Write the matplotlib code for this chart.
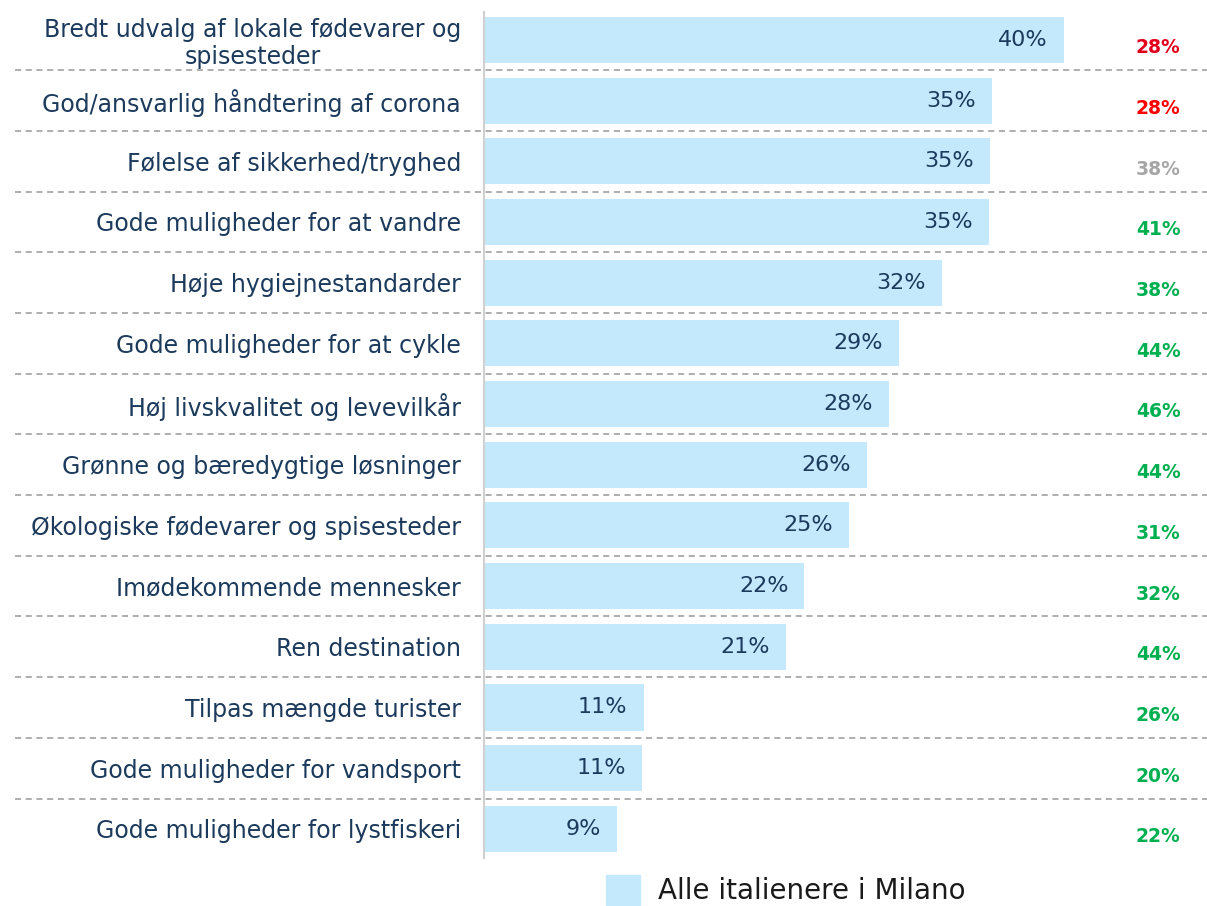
import matplotlib.pyplot as plt
from matplotlib.patches import Patch

# data
categories = [
    'Bredt udvalg af lokale fødevarer og\nspisesteder',
    'God/ansvarlig håndtering af corona',
    'Følelse af sikkerhed/tryghed',
    'Gode muligheder for at vandre',
    'Høje hygiejnestandarder',
    'Gode muligheder for at cykle',
    'Høj livskvalitet og levevilkår',
    'Grønne og bæredygtige løsninger',
    'Økologiske fødevarer og spisesteder',
    'Imødekommende mennesker',
    'Ren destination',
    'Tilpas mængde turister',
    'Gode muligheder for vandsport',
    'Gode muligheder for lystfiskeri',
]
milano = [40.0, 35.0, 34.9, 34.8, 31.6, 28.6, 27.9, 26.4, 25.2, 22.1, 20.8, 11.0, 10.9, 9.2]
compare = [28, 28, 38, 41, 38, 44, 46, 44, 31, 32, 44, 26, 20, 22]
compare_colors = ['#E3001B', '#FF0000', '#A6A6A6'] + ['#00B050'] * 11
legend_label = 'Alle italienere i Milano'

bar_color = '#C5E9FC'
text_color = '#1B3A5C'

W, H = 1207, 906
fig = plt.figure(figsize=(W / 100, H / 100), dpi=100)
ax = fig.add_axes([484 / W, 1 - 858 / H, (W - 484) / W, (858 - 12) / H])

y = list(range(len(categories)))
ax.barh(y, milano, height=0.76, color=bar_color)

ax.set_xlim(0, (W - 484) / 14.5)
ax.set_ylim(len(categories) - 1 + 0.48, -0.46)

for i, v in enumerate(milano):
    ax.annotate(f'{round(v)}%', (v, i), xytext=(-11.5, 0), textcoords='offset points',
                ha='right', va='center', fontsize=16, color=text_color)
    ax.text(46.5, i + 0.13, f'{compare[i]}%', ha='center', va='center',
            fontsize=13.5, fontweight='bold', color=compare_colors[i])

# dashed separators across the whole width
for i in range(len(categories) - 1):
    ax.axhline(i + 0.5, xmin=(15 - 484) / (W - 484), xmax=1.0, color='#999999',
               lw=1.1, ls=(0, (4, 3)), clip_on=False)

ax.set_yticks(y)
ax.set_yticklabels(categories, fontsize=17, color=text_color)
ax.tick_params(axis='y', length=0, pad=16.5)
ax.tick_params(axis='x', bottom=False, labelbottom=False)
for lbl in ax.get_yticklabels():
    lbl.set_multialignment('center')
    lbl.set_linespacing(1.15)

for s in ['top', 'right', 'bottom']:
    ax.spines[s].set_visible(False)
ax.spines['left'].set_color('#D0D0D0')
ax.spines['left'].set_linewidth(1.5)

fig.legend(handles=[Patch(color=bar_color, label=legend_label)], loc='center left',
           bbox_to_anchor=(606 / W, 1 - 890 / H), frameon=False, fontsize=20,
           handlelength=1.24, handleheight=1.3, handletextpad=0.65,
           borderpad=0, borderaxespad=0, labelcolor='#1A1A1A')

fig.savefig('out.png', dpi=100)
